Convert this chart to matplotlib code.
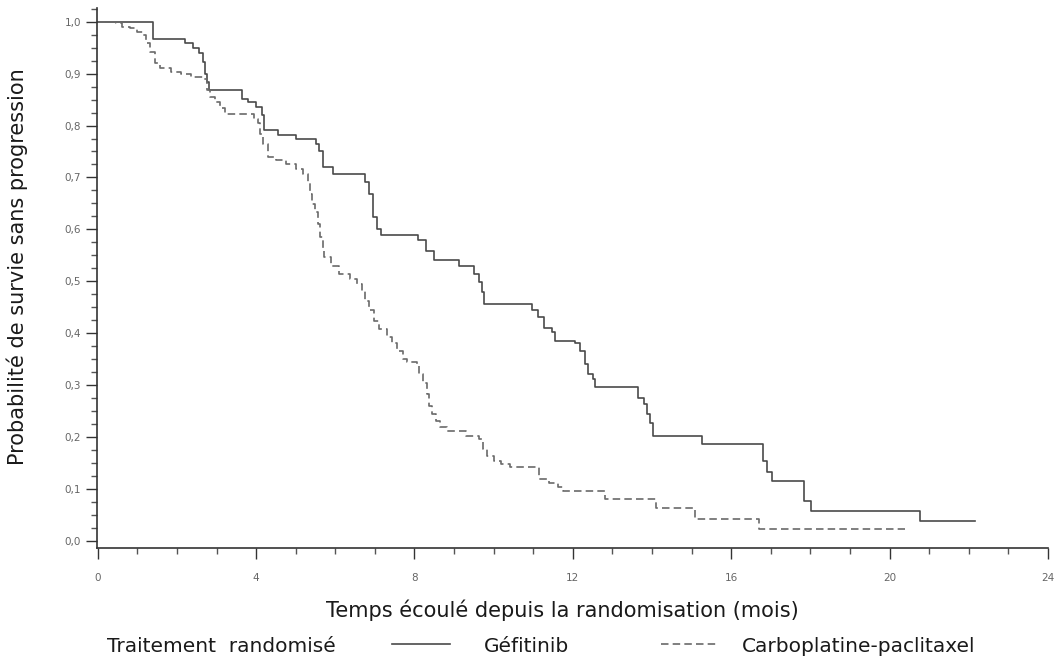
import matplotlib
matplotlib.use("Agg")
import matplotlib.pyplot as plt
from matplotlib.ticker import MultipleLocator, FuncFormatter

plt.rcParams['font.family'] = ['DejaVu Sans']

# Gefitinib (solid) - step times (mois) and survival after each step
gef_t = [0, 1.40, 2.20, 2.40, 2.55, 2.65, 2.70, 2.75, 2.80, 3.65, 3.80, 4.00,
         4.15, 4.20, 4.55, 5.00, 5.50, 5.60, 5.68, 5.95, 6.75, 6.85, 6.95,
         7.05, 7.15, 8.10, 8.30, 8.48, 9.13, 9.50, 9.62, 9.70, 9.76, 10.98,
         11.12, 11.28, 11.48, 11.54, 12.05, 12.18, 12.30, 12.39, 12.52, 12.56,
         13.65, 13.79, 13.87, 13.95, 14.03, 15.25, 16.80, 16.90, 17.02, 17.85,
         18.02, 20.78, 22.15]
gef_s = [1.0, 0.967, 0.958, 0.949, 0.939, 0.922, 0.900, 0.884, 0.868, 0.852,
         0.845, 0.836, 0.820, 0.791, 0.781, 0.775, 0.765, 0.750, 0.720, 0.707,
         0.691, 0.669, 0.624, 0.601, 0.590, 0.579, 0.559, 0.542, 0.530, 0.514,
         0.498, 0.480, 0.456, 0.444, 0.431, 0.410, 0.402, 0.386, 0.382, 0.366,
         0.341, 0.321, 0.312, 0.296, 0.276, 0.264, 0.244, 0.228, 0.203, 0.186,
         0.154, 0.133, 0.116, 0.077, 0.058, 0.039, 0.039]

# Carboplatine-paclitaxel (dashed)
carbo_t = [0, 0.45, 0.62, 0.82, 1.00, 1.15, 1.22, 1.32, 1.45, 1.58, 1.85, 2.10,
           2.35, 2.65, 2.75, 2.83, 2.95, 3.08, 3.22, 3.95, 4.05, 4.10, 4.18,
           4.30, 4.50, 4.75, 5.00, 5.18, 5.30, 5.36, 5.40, 5.48, 5.56, 5.62,
           5.68, 5.72, 5.88, 6.10, 6.38, 6.55, 6.68, 6.76, 6.85, 6.97, 7.10,
           7.30, 7.44, 7.57, 7.70, 7.82, 8.07, 8.12, 8.22, 8.32, 8.37, 8.45,
           8.54, 8.65, 8.82, 9.30, 9.62, 9.72, 9.84, 10.00, 10.18, 10.40, 11.15,
           11.40, 11.62, 11.75, 12.80, 14.10, 15.08, 16.70, 20.40]
carbo_s = [1.0, 0.997, 0.990, 0.987, 0.980, 0.974, 0.958, 0.942, 0.920, 0.910,
           0.903, 0.900, 0.894, 0.890, 0.868, 0.855, 0.845, 0.833, 0.823, 0.813,
           0.805, 0.784, 0.765, 0.739, 0.733, 0.726, 0.717, 0.707, 0.691, 0.669,
           0.649, 0.633, 0.611, 0.585, 0.560, 0.546, 0.530, 0.514, 0.505, 0.495,
           0.482, 0.463, 0.444, 0.424, 0.408, 0.392, 0.382, 0.366, 0.350, 0.344,
           0.338, 0.321, 0.305, 0.283, 0.260, 0.244, 0.231, 0.219, 0.212, 0.203,
           0.196, 0.177, 0.164, 0.154, 0.148, 0.143, 0.119, 0.112, 0.103, 0.096,
           0.080, 0.063, 0.043, 0.024, 0.024]

xticks = [0, 4, 8, 12, 16, 20, 24]
yticks = [0.0, 0.1, 0.2, 0.3, 0.4, 0.5, 0.6, 0.7, 0.8, 0.9, 1.0]

W, H = 1062, 664
fig = plt.figure(figsize=(W / 100, H / 100), dpi=100)
ax = fig.add_axes([0.0913, 0.1747, 0.8955, 0.813])

l1, = ax.step(gef_t, gef_s, where='post', color='#4a4a4a', lw=1.2,
              label='Géfitinib')
l2, = ax.step(carbo_t, carbo_s, where='post', color='#6a6a6a', lw=1.2,
              ls=(0, (4.5, 2.5)), label='Carboplatine-paclitaxel')

ax.set_xlim(-0.02, 24)
ax.set_ylim(-0.0135, 1.026)
for s in ['top', 'right']:
    ax.spines[s].set_visible(False)
for s in ['left', 'bottom']:
    ax.spines[s].set_color('#333333')
    ax.spines[s].set_linewidth(1.2)

ax.set_xticks(xticks)
ax.set_yticks(yticks)
ax.xaxis.set_minor_locator(MultipleLocator(1))
ax.yaxis.set_minor_locator(MultipleLocator(0.025))
ax.yaxis.set_major_formatter(FuncFormatter(lambda v, p: ('%.1f' % v).replace('.', ',')))
ax.tick_params(which='major', length=8, width=1, color='#333333',
               labelsize=7.5, labelcolor='#666666')
ax.tick_params(which='minor', length=4, width=1, color='#555555')
ax.tick_params(axis='x', pad=10)

lab_fs = 15
leg_fs = 14.5
ax.set_xlabel('Temps écoulé depuis la randomisation (mois)', fontsize=lab_fs,
              color='#1a1a1a')
ax.xaxis.set_label_coords(0.489, -0.096)
ax.set_ylabel('Probabilité de survie sans progression', fontsize=lab_fs,
              color='#1a1a1a')
ax.yaxis.set_label_coords(-0.073, 0.521)

yl = 1 - 646 / H
fig.text(107 / W, yl, 'Traitement  randomisé', fontsize=leg_fs,
         color='#1a1a1a', va='center', ha='left')
px = leg_fs * 100 / 72
fig.legend(handles=[l1], loc='center left', bbox_to_anchor=(392 / W, yl),
           frameon=False, fontsize=leg_fs, handlelength=58 / px,
           handletextpad=34 / px, borderpad=0, borderaxespad=0,
           labelcolor='#1a1a1a')
fig.legend(handles=[l2], loc='center left', bbox_to_anchor=(661 / W, yl),
           frameon=False, fontsize=leg_fs, handlelength=57 / px,
           handletextpad=24 / px, borderpad=0, borderaxespad=0,
           labelcolor='#1a1a1a')

fig.savefig('out.png', dpi=100)
